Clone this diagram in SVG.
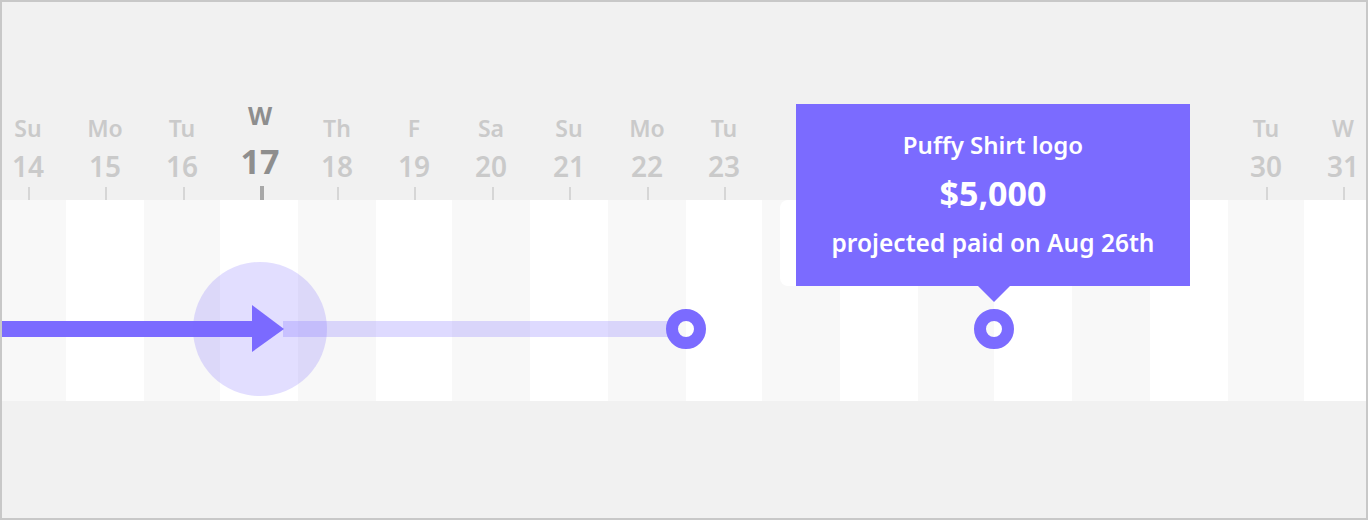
<svg xmlns="http://www.w3.org/2000/svg" width="1368" height="520" viewBox="0 0 1368 520">
  <style>
    .day{font-family:"Noto Sans","Liberation Sans",sans-serif;font-size:23px;font-weight:600;fill:#cacaca;text-anchor:middle}
    .num{font-family:"Noto Sans","Liberation Sans",sans-serif;font-size:28px;font-weight:600;fill:#cacaca;text-anchor:middle}
    .dayH{font-family:"Noto Sans","Liberation Sans",sans-serif;font-size:25px;font-weight:700;fill:#8e8e8e;text-anchor:middle}
    .numH{font-family:"Noto Sans","Liberation Sans",sans-serif;font-size:34px;font-weight:700;fill:#8e8e8e;text-anchor:middle}
    .tick{stroke:#d6d6d6;stroke-width:2}
    .tickH{stroke:#a8a8a8;stroke-width:4}
    .colA{fill:#f8f8f8}
    .colB{fill:#ffffff}
    .ring{fill:none;stroke:#7b6bff;stroke-width:12}
    .tt{font-family:"Noto Sans","Liberation Sans",sans-serif;fill:#ffffff;text-anchor:middle}
  </style>
  <rect x="0" y="0" width="1368" height="520" fill="#f1f1f1"/>
  <g id="band">
    <rect class="colA" x="2" y="200" width="64" height="201"/>
    <rect class="colB" x="66" y="200" width="78" height="201"/>
    <rect class="colA" x="144" y="200" width="76" height="201"/>
    <rect class="colB" x="220" y="200" width="78" height="201"/>
    <rect class="colA" x="298" y="200" width="78" height="201"/>
    <rect class="colB" x="376" y="200" width="76" height="201"/>
    <rect class="colA" x="452" y="200" width="78" height="201"/>
    <rect class="colB" x="530" y="200" width="78" height="201"/>
    <rect class="colA" x="608" y="200" width="78" height="201"/>
    <rect class="colB" x="686" y="200" width="76" height="201"/>
    <rect class="colA" x="762" y="200" width="78" height="201"/>
    <rect class="colB" x="840" y="200" width="78" height="201"/>
    <rect class="colA" x="918" y="200" width="76" height="201"/>
    <rect class="colB" x="994" y="200" width="78" height="201"/>
    <rect class="colA" x="1072" y="200" width="78" height="201"/>
    <rect class="colB" x="1150" y="200" width="78" height="201"/>
    <rect class="colA" x="1228" y="200" width="76" height="201"/>
    <rect class="colB" x="1304" y="200" width="62" height="201"/>
  </g>
  <g id="axis">
    <text class="day" x="28" y="137">Su</text><text class="num" x="28" y="177">14</text><line class="tick" x1="29" y1="187" x2="29" y2="200"/>
    <text class="day" x="105" y="137">Mo</text><text class="num" x="105" y="177">15</text><line class="tick" x1="106" y1="187" x2="106" y2="200"/>
    <text class="day" x="182" y="137">Tu</text><text class="num" x="182" y="177">16</text><line class="tick" x1="184" y1="187" x2="184" y2="200"/>
    <text class="dayH" x="260" y="125">W</text><text class="numH" x="260" y="174">17</text><line class="tickH" x1="262" y1="186" x2="262" y2="200"/>
    <text class="day" x="337" y="137">Th</text><text class="num" x="337" y="177">18</text><line class="tick" x1="338" y1="187" x2="338" y2="200"/>
    <text class="day" x="414" y="137">F</text><text class="num" x="414" y="177">19</text><line class="tick" x1="415" y1="187" x2="415" y2="200"/>
    <text class="day" x="491" y="137">Sa</text><text class="num" x="491" y="177">20</text><line class="tick" x1="493" y1="187" x2="493" y2="200"/>
    <text class="day" x="569" y="137">Su</text><text class="num" x="569" y="177">21</text><line class="tick" x1="570" y1="187" x2="570" y2="200"/>
    <text class="day" x="647" y="137">Mo</text><text class="num" x="647" y="177">22</text><line class="tick" x1="648" y1="187" x2="648" y2="200"/>
    <text class="day" x="724" y="137">Tu</text><text class="num" x="724" y="177">23</text><line class="tick" x1="725" y1="187" x2="725" y2="200"/>
    <text class="day" x="1266" y="137">Tu</text><text class="num" x="1266" y="177">30</text><line class="tick" x1="1267" y1="187" x2="1267" y2="200"/>
    <text class="day" x="1343" y="137">W</text><text class="num" x="1343" y="177">31</text><line class="tick" x1="1344" y1="187" x2="1344" y2="200"/>
  </g>
  <g id="connectors">
    <rect x="283" y="321" width="395" height="16" fill="#7b6bff" fill-opacity="0.25"/>
    <rect x="2" y="321" width="252" height="16" fill="#7b6bff"/>
    <polygon points="252,305 252,352 284,329" fill="#7b6bff"/>
  </g>
  <g id="today">
    <circle cx="260" cy="329" r="67" fill="#7b6bff" fill-opacity="0.22"/>
  </g>
  <g id="milestone-1">
    <circle class="ring" cx="686" cy="329" r="14" fill="#ffffff"/>
  </g>
  <g id="milestone-2">
    <circle class="ring" cx="994" cy="329" r="14"/>
  </g>
  <g id="tooltip">
    <rect x="780" y="200" width="428" height="86" rx="8" fill="#ffffff"/>
    <rect x="796" y="104" width="394" height="182" fill="#7b6bff"/>
    <polygon points="977,285 1011,285 994,302" fill="#7b6bff"/>
    <text class="tt" x="993" y="154" font-size="24" font-weight="600">Puffy Shirt logo</text>
    <text class="tt" x="993" y="206" font-size="34" font-weight="700">$5,000</text>
    <text class="tt" x="993" y="252" font-size="24.5" font-weight="600">projected paid on Aug 26th</text>
  </g>
  <rect x="1" y="1" width="1366" height="518" fill="none" stroke="#c8c8c8" stroke-width="2"/>
</svg>
